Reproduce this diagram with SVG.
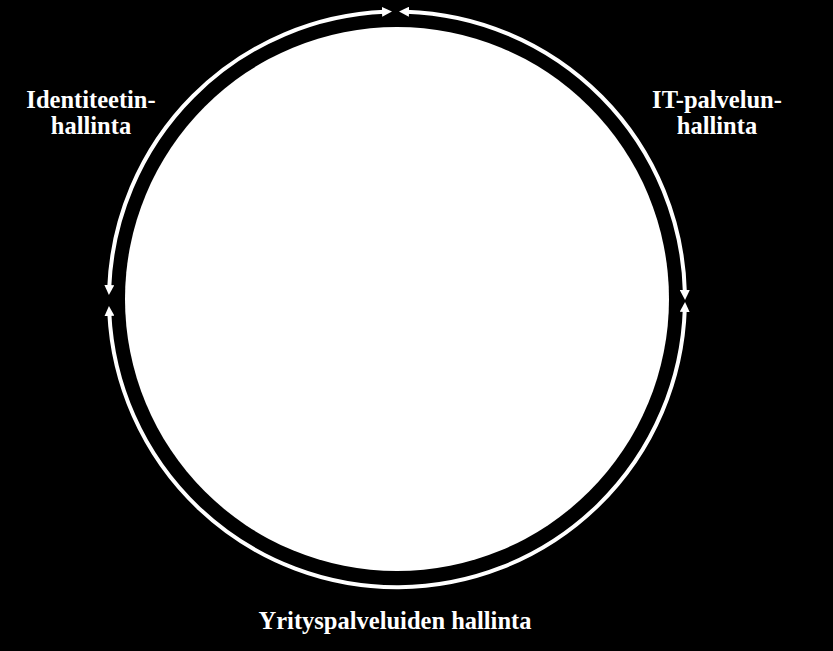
<svg xmlns="http://www.w3.org/2000/svg" width="833" height="651" viewBox="0 0 833 651">
  <style>
    .lbl { font-family: "Liberation Serif", "Times New Roman", serif; font-weight: bold; font-size: 24.5px; fill: #ffffff; text-anchor: middle; }
    .arc { fill: none; stroke: #ffffff; stroke-width: 4; marker-start: url(#ah); marker-end: url(#ah); }
  </style>
  <defs>
    <marker id="ah" viewBox="0 0 10 10" markerUnits="userSpaceOnUse" markerWidth="10" markerHeight="10" refX="3" refY="5" orient="auto-start-reverse">
      <path d="M0,0 L10,5 L0,10 z" fill="#ffffff"/>
    </marker>
  </defs>
  <rect x="0" y="0" width="833" height="651" fill="#000000"/>
  <g id="center-circle">
    <circle cx="397" cy="299" r="272" fill="#ffffff"/>
  </g>
  <g id="connectors">
    <path class="arc" d="M109.2,288 A288,288 0 0 1 385,11.75"/>
    <path class="arc" d="M406,11.64 A288,288 0 0 1 684.9,293"/>
    <path class="arc" d="M109.3,313 A288,288 0 0 0 684.8,309"/>
  </g>
  <g id="node-identiteetin">
    <text class="lbl" x="91" y="108">Identiteetin-</text>
    <text class="lbl" x="91" y="134">hallinta</text>
  </g>
  <g id="node-it-palvelun">
    <text class="lbl" x="717" y="108">IT-palvelun-</text>
    <text class="lbl" x="717" y="134">hallinta</text>
  </g>
  <g id="node-yrityspalveluiden">
    <text class="lbl" x="395" y="629">Yrityspalveluiden hallinta</text>
  </g>
</svg>
